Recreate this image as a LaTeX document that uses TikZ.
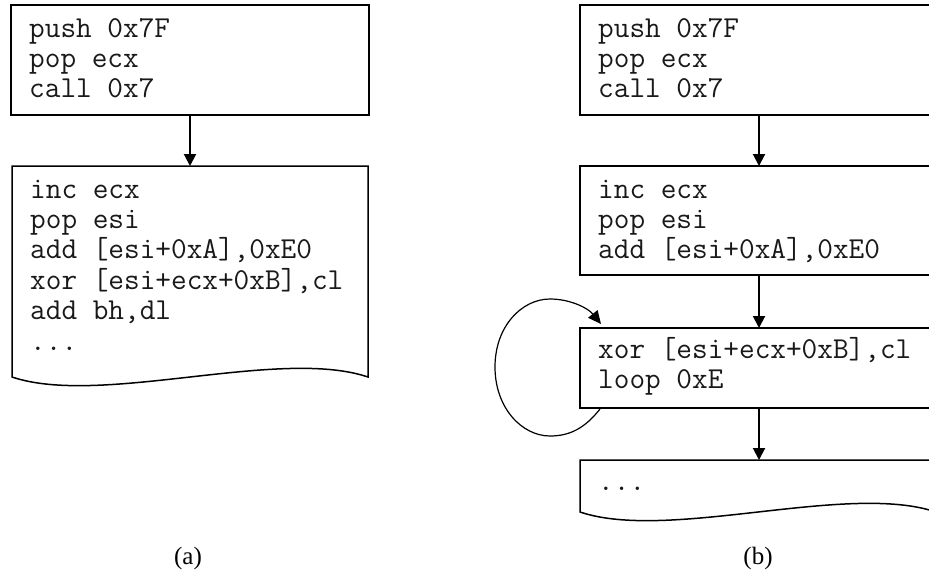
\documentclass[tikz,border=0pt]{standalone}
\usepackage{fontspec}
\setmainfont{Liberation Serif}
\usetikzlibrary{arrows.meta,calc}
\begin{document}
\begin{tikzpicture}[x=1pt,y=-1pt,
  box/.style={draw, line width=2.2pt, rectangle, inner sep=0pt, outer sep=0pt,
    anchor=north west, minimum width=358pt},
  docbox/.style={rectangle, inner sep=0pt, outer sep=0pt, anchor=north west,
    minimum width=356pt},
  docline/.style={line width=1.5pt, line join=miter},
  code/.style={font=\ttfamily\fontsize{30.4pt}{30pt}\selectfont,
    anchor=base west, inner sep=0pt, text=black!90},
  flow/.style={line width=2pt, -{Triangle[width=12pt,length=12pt]}},
  loopline/.style={line width=1.2pt, -{Triangle[width=12pt,length=13pt]}},
  caption/.style={font=\fontsize{25pt}{28pt}\selectfont, anchor=base, inner sep=0pt}
]
\useasboundingbox (0,0) rectangle (929,573);

% ---------- (a) ----------
\node[box, minimum height=110pt] (A1) at (11,5) {};
\node[docbox, minimum height=211pt] (A2) at (12,166) {};
\draw[docline] (A2.south west) -- (A2.north west) -- (A2.north east) -- (A2.south east)
  .. controls ($(A2.south east)+(-89,-30)$) and ($(A2.south west)+(89,30)$) .. (A2.south west) -- cycle;

\node[code] (a1t1) at ($(A1.north west)+(18,32)$) {push 0x7F};
\node[code] (a1t2) at ($(A1.north west)+(18,62)$) {pop ecx};
\node[code] (a1t3) at ($(A1.north west)+(18,92)$) {call 0x7};

\node[code] (a2t1) at ($(A2.north west)+(18,32)$) {inc ecx};
\node[code] (a2t2) at ($(A2.north west)+(18,62.4)$) {pop esi};
\node[code] (a2t3) at ($(A2.north west)+(18,92.8)$) {add [esi+0xA],0xE0};
\node[code] (a2t4) at ($(A2.north west)+(18,123.2)$) {xor [esi+ecx+0xB],cl};
\node[code] (a2t5) at ($(A2.north west)+(18,153.6)$) {add bh,dl};
\node[code] (a2t6) at ($(A2.north west)+(18,184)$) {...};

\draw[flow] (A1.south) -- (A1.south |- A2.north);

\node[caption] (capa) at (188,564) {(a)};

% ---------- (b) ----------
\node[box, minimum height=110pt] (B1) at (580,5) {};
\node[box, minimum height=109pt] (B2) at (580,166) {};
\node[box, minimum height=80pt] (B3) at (580,328) {};
\node[docbox, minimum height=52pt] (B4) at (580,460) {};
\draw[docline] (B4.south west) -- (B4.north west) -- (B4.north east) -- (B4.south east)
  .. controls ($(B4.south east)+(-89,-30)$) and ($(B4.south west)+(89,30)$) .. (B4.south west) -- cycle;

\node[code] (b1t1) at ($(B1.north west)+(18,32)$) {push 0x7F};
\node[code] (b1t2) at ($(B1.north west)+(18,62)$) {pop ecx};
\node[code] (b1t3) at ($(B1.north west)+(18,92)$) {call 0x7};

\node[code] (b2t1) at ($(B2.north west)+(18,32)$) {inc ecx};
\node[code] (b2t2) at ($(B2.north west)+(18,62)$) {pop esi};
\node[code] (b2t3) at ($(B2.north west)+(18,92)$) {add [esi+0xA],0xE0};

\node[code] (b3t1) at ($(B3.north west)+(18,30)$) {xor [esi+ecx+0xB],cl};
\node[code] (b3t2) at ($(B3.north west)+(18,60)$) {loop 0xE};

\node[code] (b4t1) at ($(B4.north west)+(18,30)$) {...};

\draw[flow] (B1.south) -- (B2.north);
\draw[flow] (B2.south) -- (B3.north);
\draw[flow] (B3.south) -- (B3.south |- B4.north);

% back edge of the loop body
\coordinate (loopS) at ($(B3.south west)+(20,1)$);
\coordinate (loopE) at ($(B3.north west)+(21,-4)$);
\draw[loopline] (loopS)
  .. controls (585,428) and (570,436) .. (550,436)
  .. controls (522,436) and (495,408) .. (495,367)
  .. controls (495,326) and (522,299) .. (550,299)
  .. controls (570,299) and (588,308) .. (loopE);

\node[caption] (capb) at (758,564) {(b)};
\end{tikzpicture}
\end{document}
